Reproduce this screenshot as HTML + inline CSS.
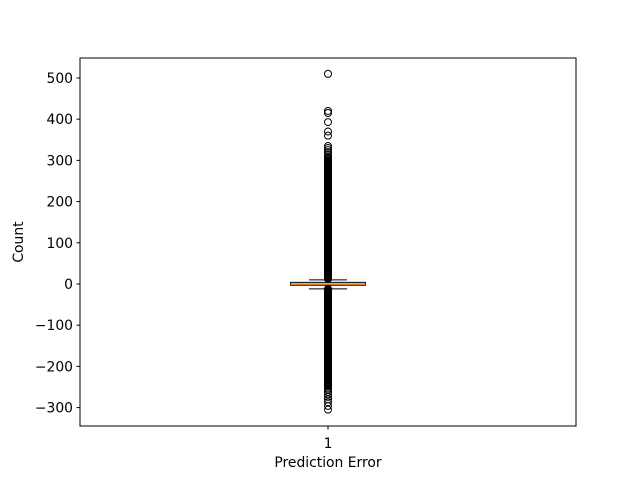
<!DOCTYPE html>
<html><head><meta charset="utf-8"><style>
body{margin:0;background:#fff;}
text{font-family:"DejaVu Sans","Liberation Sans",sans-serif;font-size:13.9px;fill:#000;}
</style></head><body>
<svg id="chart" width="640" height="480" xmlns="http://www.w3.org/2000/svg"></svg>
<script>
const yTicks = [-300,-200,-100,0,100,200,300,400,500];
const category = ["1"];
const boxStats = [-3, 0, 4]; // q1, median, q3
const whiskers = [-12, 10];
const outliersHigh = [12,14,16,18,20,22,24,26,28,30,32,34,36,38,40,42,44,46,48,50,52,54,56,58,60,62,64,66,68,70,72,74,76,78,80,82,84,86,88,90,92,94,96,98,100,102,104,106,108,110,112,114,116,118,120,122,124,126,128,130,132,134,136,138,140,142,144,146,148,150,152,154,156,158,160,162,164,166,168,170,172,174,176,178,180,182,184,186,188,190,192,194,196,198,200,202,204,206,208,210,212,214,216,218,220,222,224,226,228,230,232,234,236,238,240,242,244,246,248,250,252,254,256,258,260,262,264,266,268,270,272,274,276,278,280,282,284,286,288,290,292,294,296,298,300,303,306,310,315,320,325,330,335,360,370,393,415,420,510];
const outliersLow = [-12,-14,-16,-18,-20,-22,-24,-26,-28,-30,-32,-34,-36,-38,-40,-42,-44,-46,-48,-50,-52,-54,-56,-58,-60,-62,-64,-66,-68,-70,-72,-74,-76,-78,-80,-82,-84,-86,-88,-90,-92,-94,-96,-98,-100,-102,-104,-106,-108,-110,-112,-114,-116,-118,-120,-122,-124,-126,-128,-130,-132,-134,-136,-138,-140,-142,-144,-146,-148,-150,-152,-154,-156,-158,-160,-162,-164,-166,-168,-170,-172,-174,-176,-178,-180,-182,-184,-186,-188,-190,-192,-194,-196,-198,-200,-202,-204,-206,-208,-210,-212,-214,-216,-218,-220,-222,-224,-226,-228,-230,-232,-234,-236,-238,-240,-242,-244,-246,-248,-252,-256,-262,-268,-274,-280,-287,-296,-305];

const NS="http://www.w3.org/2000/svg";
const svg=document.getElementById('chart');
const L=80,R=576,T=58,B=426;
const yMin=-344.7,yMax=548.5;
const y=v=>B-(v-yMin)/(yMax-yMin)*(B-T);
const xc=(L+R)/2;
function mk(tag,attrs,parent){const e=document.createElementNS(NS,tag);for(const k in attrs)e.setAttribute(k,attrs[k]);(parent||svg).appendChild(e);return e;}

const og=mk('g',{});


outliersHigh.concat(outliersLow).forEach(v=>{
  const c=mk('circle',{cx:xc,cy:y(v),r:3.5,fill:'none',stroke:'#000','stroke-width':1},og);
  
  
});
const halfBox=37.5, halfCap=19;
const w1=mk('line',{x1:xc,x2:xc,y1:y(boxStats[0]),y2:y(whiskers[0]),stroke:'#000'});


const w2=mk('line',{x1:xc,x2:xc,y1:y(boxStats[2]),y2:y(whiskers[1]),stroke:'#000'});


whiskers.forEach(v=>{
  const c=mk('line',{x1:xc-halfCap,x2:xc+halfCap,y1:y(v),y2:y(v),stroke:'#000'});
  
  
});
const box=mk('rect',{x:xc-halfBox,y:y(boxStats[2]),width:2*halfBox,height:y(boxStats[0])-y(boxStats[2]),fill:'none',stroke:'#000'});


const med=mk('line',{x1:xc-halfBox,x2:xc+halfBox,y1:y(boxStats[1]),y2:y(boxStats[1]),stroke:'#ff7f0e','stroke-width':1.5});



const fr=mk('rect',{x:L,y:T,width:R-L,height:B-T,fill:'none',stroke:'#000','stroke-width':1});


yTicks.forEach(v=>{
  const yy=y(v);
  const t=mk('line',{x1:L-3.5,x2:L,y1:yy,y2:yy,stroke:'#000'});
  
  
  const lb=mk('text',{x:L-7,y:yy+5,'text-anchor':'end'});
  lb.textContent=(v<0?'\u2212'+(-v):String(v));
  
  
});
const xt=mk('line',{x1:xc,x2:xc,y1:B,y2:B+3.5,stroke:'#000'});


const xl=mk('text',{x:xc,y:448,'text-anchor':'middle'});
xl.textContent=category[0];


const xa=mk('text',{x:xc,y:467,'text-anchor':'middle'});
xa.textContent='Prediction Error';


const ya=mk('text',{x:23,y:(T+B)/2,'text-anchor':'middle',transform:`rotate(-90 23 ${(T+B)/2})`});
ya.textContent='Count';


</script>
</body></html>
